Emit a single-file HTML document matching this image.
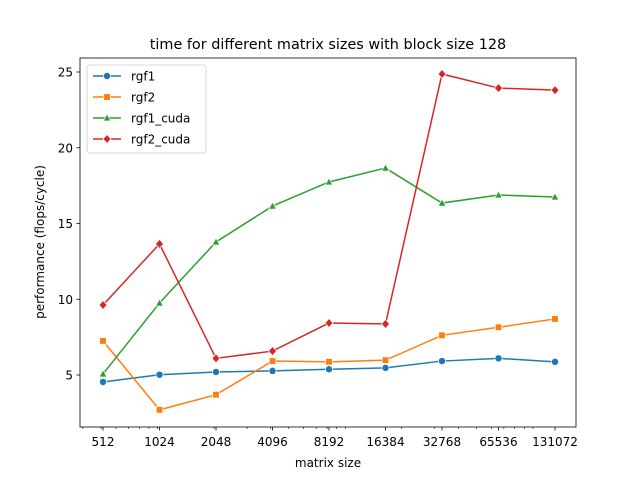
<!DOCTYPE html>
<html><head><meta charset="utf-8"><style>
body{margin:0;background:#fff;font-family:"Liberation Sans","DejaVu Sans",sans-serif}
svg text{font-family:"DejaVu Sans","Liberation Sans",sans-serif}
</style></head><body>
<svg id="chart" width="640" height="480" xmlns="http://www.w3.org/2000/svg">
<rect width="640" height="480" fill="#fff"/>
<text x="328" y="49" font-size="14.4" text-anchor="middle">time for different matrix sizes with block size 128</text>
<g id="grid"></g><g id="series"></g>
<rect x="80" y="58" width="496" height="369" fill="none" stroke="#000" stroke-width="0.8"/>
<text x="328" y="467" font-size="12" text-anchor="middle">matrix size</text>
<text x="44" y="242" font-size="12" text-anchor="middle" transform="rotate(-90 44 242)">performance (flops/cycle)</text>
<g id="legend"></g>
</svg>
<script>
const sizes=[512,1024,2048,4096,8192,16384,32768,65536,131072];
const yTicks=[5,10,15,20,25];
const seriesNames=["rgf1","rgf2","rgf1_cuda","rgf2_cuda"];
const rgf1=[4.54,5.02,5.2,5.27,5.38,5.47,5.92,6.1,5.87];
const rgf2=[7.25,2.7,3.7,5.92,5.87,5.98,7.62,8.15,8.7];
const rgf1_cuda=[5.07,9.75,13.78,16.15,17.74,18.66,16.35,16.88,16.75];
const rgf2_cuda=[9.62,13.65,6.1,6.58,8.43,8.37,24.87,23.94,23.8];
const colors=["#1f77b4","#ff7f0e","#2ca02c","#d62728"];
const markers=["circle","square","triangle","diamond"];
const allSeries=[rgf1,rgf2,rgf1_cuda,rgf2_cuda];
const NS="http://www.w3.org/2000/svg";
const xs=v=>103+(Math.log2(v)-9)*56.5;
const ys=v=>375-(v-5)*15.15;
function el(t,a,p){const e=document.createElementNS(NS,t);for(const k in a)e.setAttribute(k,a[k]);p.appendChild(e);return e;}
const svg=document.getElementById('chart'),grid=document.getElementById('grid'),ser=document.getElementById('series'),leg=document.getElementById('legend');
for(let k=2;k<=5;k++)for(let d=1;d<=9;d++){const s=d*Math.pow(10,k);const x=xs(s);
 if(x<80||x>576)continue;
 const t=el('line',{x1:x,x2:x,y1:427,y2:429,stroke:'#000','stroke-width':0.6},grid);
 }
sizes.forEach(s=>{const x=xs(s);
 const t=el('line',{x1:x,x2:x,y1:427,y2:430.5,stroke:'#000','stroke-width':0.8},grid);
 
 const l=el('text',{x:x,y:446,'font-size':12,'text-anchor':'middle'},grid);l.textContent=s;
 });
yTicks.forEach(v=>{const y=ys(v);
 const t=el('line',{x1:76.5,x2:80,y1:y,y2:y,stroke:'#000','stroke-width':0.8},grid);
 
 const l=el('text',{x:73,y:y+4.5,'font-size':12,'text-anchor':'end'},grid);l.textContent=v;
 });
function marker(type,x,y,c,p){let e;
 if(type==='circle')e=el('circle',{cx:x,cy:y,r:3.6},p);
 else if(type==='square')e=el('rect',{x:x-3.3,y:y-3.3,width:6.6,height:6.6},p);
 else if(type==='triangle')e=el('polygon',{points:`${x},${y-4} ${x-3.8},${y+3} ${x+3.8},${y+3}`},p);
 else e=el('polygon',{points:`${x},${y-4.5} ${x+4},${y} ${x},${y+4.5} ${x-4},${y}`},p);
 e.setAttribute('fill',c);e.setAttribute('stroke','#fff');e.setAttribute('stroke-width',0.7);return e;}
allSeries.forEach((d,i)=>{
 const pl=el('polyline',{points:d.map((v,j)=>xs(sizes[j])+','+ys(v)).join(' '),fill:'none',stroke:colors[i],'stroke-width':1.5},ser);
 
 d.forEach((v,j)=>{const m=marker(markers[i],xs(sizes[j]),ys(v),colors[i],ser);
  });});
const box=el('rect',{x:87,y:65,width:119,height:88,rx:3,fill:'#fff','fill-opacity':0.8,stroke:'#ccc','stroke-width':0.8},leg);

seriesNames.forEach((n,i)=>{const y=76+i*21;
 const l=el('line',{x1:93,x2:121,y1:y,y2:y,stroke:colors[i],'stroke-width':1.5},leg);
 
 const m=marker(markers[i],107,y,colors[i],leg);
 
 const t=el('text',{x:131,y:y+4.5,'font-size':12},leg);t.textContent=n;
 });
</script>
</body></html>
